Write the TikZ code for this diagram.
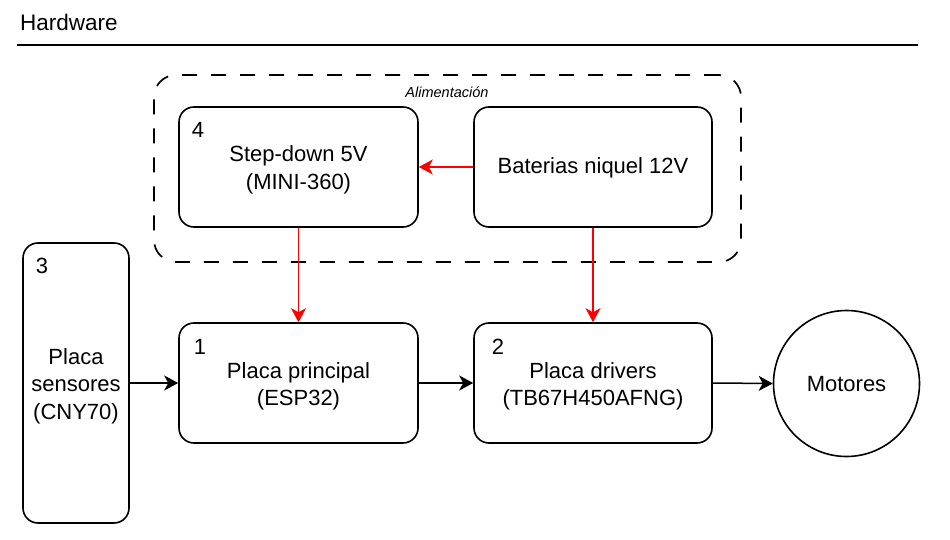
\documentclass[tikz,border=0pt]{standalone}
\usepackage{fontspec}
\setmainfont{Liberation Sans}
\usetikzlibrary{arrows.meta}
\tikzset{
  box/.style={draw=black, line width=1.6pt, rounded corners=15pt, inner sep=0pt},
  txt/.style={align=center, inner sep=0pt, font=\fontsize{22}{27.5}\selectfont},
  num/.style={inner sep=0pt, font=\fontsize{22}{24}\selectfont},
  blackarrow/.style={draw=black, line width=1.5pt, -{Stealth[length=14pt,width=15pt,inset=4pt]}},
  redarrow/.style={draw=red, line width=1.5pt, -{Stealth[length=14pt,width=15pt,inset=4pt]}},
  group/.style={draw=black, line width=1.7pt, dash pattern=on 15pt off 14pt,
    rounded corners=22pt, inner sep=0pt}
}
\begin{document}
\begin{tikzpicture}[x=1pt,y=-1pt]
\useasboundingbox (0,0) rectangle (950,540);
% header
\node[anchor=west, inner sep=0pt, font=\fontsize{22.5}{24}\selectfont] (title) at (20,22) {Hardware};
\coordinate (hl) at (17,45);
\coordinate (hr) at (918,45);
\draw[line width=2.3pt] (hl) -- (hr);
% group
\node[group, minimum width=587pt, minimum height=187pt] (grp) at (447.5,168.5) {};
\node[inner sep=0pt, font=\fontsize{14.5}{16}\selectfont\itshape] (alim) at (447,92) {Alimentación};
% boxes
\node[box, minimum width=239pt, minimum height=120pt] (sd) at (298.5,167) {};
\node[box, minimum width=238pt, minimum height=120pt] (bat) at (593,167) {};
\node[box, minimum width=106pt, minimum height=280pt] (sens) at (76,383) {};
\node[box, minimum width=239pt, minimum height=120pt] (pp) at (298.5,383) {};
\node[box, minimum width=238pt, minimum height=120pt] (drv) at (593,383) {};
\node[box, circle, rounded corners=0pt, minimum size=146pt] (mot) at (846.5,383.5) {};
% texts
\node[txt] (sdt) at (298.5,170) {Step-down 5V\\(MINI-360)};
\node[txt] (batt) at (593,168) {Baterias niquel 12V};
\node[txt] (senst) at (76,386) {Placa\\sensores\\(CNY70)};
\node[txt] (ppt) at (298.5,386.5) {Placa principal\\(ESP32)};
\node[txt] (drvt) at (593,386.5) {Placa drivers\\(TB67H450AFNG)};
\node[txt] (mott) at (846.5,384) {Motores};
% numbers
\node[num] (n4) at (198,130) {4};
\node[num] (n3) at (42,266) {3};
\node[num] (n1) at (200,347) {1};
\node[num] (n2) at (498,347) {2};
% connectors
\draw[redarrow] (bat.west) -- (sd.east);
\draw[redarrow] (sd.south) -- (pp.north);
\draw[redarrow] (bat.south) -- (drv.north);
\draw[blackarrow] (sens.east |- pp.west) -- (pp.west);
\draw[blackarrow] (pp.east) -- (drv.west);
\draw[blackarrow] (drv.east) -- (mot.west);
\end{tikzpicture}
\end{document}
